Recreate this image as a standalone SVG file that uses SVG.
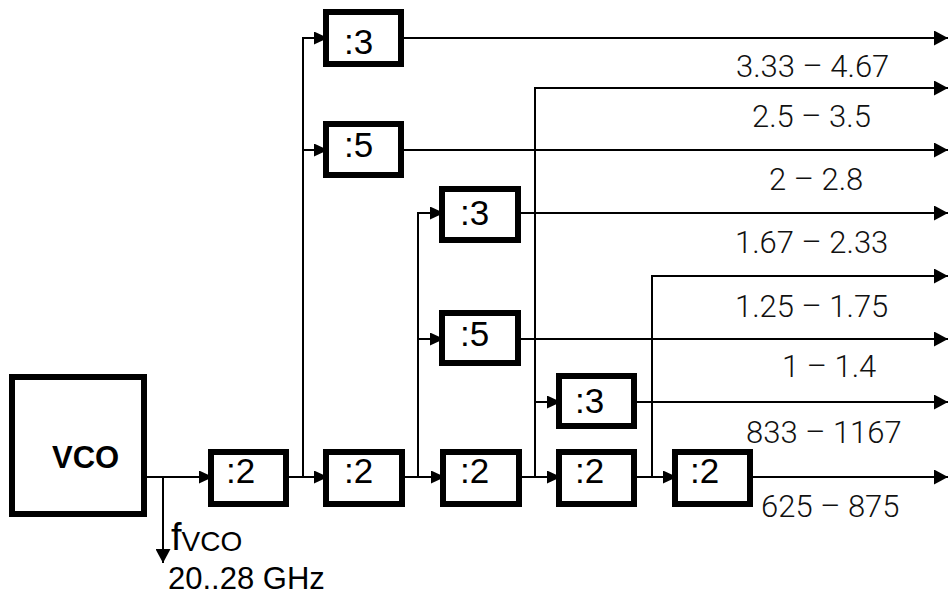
<svg xmlns="http://www.w3.org/2000/svg" width="948" height="596" viewBox="0 0 948 596">
<style>
.box{fill:#fff;stroke:#000;stroke-width:6}
.bt{font-family:"Liberation Sans",Arial,sans-serif;font-size:35px;fill:#000}
.lbl{font-family:Roboto,"Liberation Sans",Arial,sans-serif;font-weight:300;font-size:31px;fill:#111}
.w{fill:none;stroke:#000;stroke-width:2}
.in{marker-end:url(#sa)}
.out{marker-end:url(#ba)}
</style>
<defs>
<marker id="sa" markerUnits="userSpaceOnUse" markerWidth="14" markerHeight="13" refX="14" refY="6.5" orient="auto"><path d="M0,0 L14,6.5 L0,13 z" fill="#000"/></marker>
<marker id="ba" markerUnits="userSpaceOnUse" markerWidth="14" markerHeight="15" refX="14" refY="7.5" orient="auto"><path d="M0,0 L14,7.5 L0,15 z" fill="#000"/></marker>
</defs>
<rect width="948" height="596" fill="#fff"/>
<g id="connectors">
<path class="w in" d="M147,477 H213"/>
<path class="w out" d="M163,477 V563"/>
<path class="w in" d="M289,477 H328"/>
<path class="w in" d="M303,477 V38 H328"/>
<path class="w in" d="M303,150 H328"/>
<path class="w in" d="M405,477 H445"/>
<path class="w in" d="M418,477 V213 H444"/>
<path class="w in" d="M418,339 H444"/>
<path class="w in" d="M522,477 H561"/>
<path class="w out" d="M535,477 V88 H948"/>
<path class="w in" d="M535,402 H561"/>
<path class="w in" d="M637,477 H677"/>
<path class="w out" d="M652,477 V276 H948"/>
<path class="w out" d="M404,38 H948"/>
<path class="w out" d="M404,150 H948"/>
<path class="w out" d="M521,213 H948"/>
<path class="w out" d="M521,339 H948"/>
<path class="w out" d="M637,402 H948"/>
<path class="w out" d="M753,477 H948"/>
</g>
<g id="vco"><rect x="12" y="377" width="132" height="137" fill="none" stroke="#000" stroke-width="6"/><text x="52" y="468" font-family="'Liberation Sans',Arial,sans-serif" font-size="31" font-weight="bold">VCO</text></g>
<g id="div2a"><rect class="box" x="211" y="452" width="75" height="52"/><text class="bt" x="226" y="483">:2</text></g>
<g id="div2b"><rect class="box" x="326" y="452" width="76" height="52"/><text class="bt" x="344" y="483">:2</text></g>
<g id="div2c"><rect class="box" x="443" y="452" width="76" height="52"/><text class="bt" x="460" y="483">:2</text></g>
<g id="div2d"><rect class="box" x="559" y="452" width="75" height="52"/><text class="bt" x="575" y="483">:2</text></g>
<g id="div2e"><rect class="box" x="675" y="452" width="75" height="52"/><text class="bt" x="690" y="483">:2</text></g>
<g id="div3top"><rect class="box" x="326" y="12" width="75" height="52"/><text class="bt" x="344" y="54">:3</text></g>
<g id="div5top"><rect class="box" x="326" y="124" width="75" height="51"/><text class="bt" x="344" y="157">:5</text></g>
<g id="div3mid"><rect class="box" x="442" y="189" width="76" height="51"/><text class="bt" x="460" y="225">:3</text></g>
<g id="div5mid"><rect class="box" x="442" y="313" width="76" height="50"/><text class="bt" x="460" y="346">:5</text></g>
<g id="div3low"><rect class="box" x="559" y="376" width="75" height="50"/><text class="bt" x="575" y="413">:3</text></g>
<g id="fvco"><text x="171" y="550" font-family="'Liberation Sans',Arial,sans-serif" font-size="38">f<tspan font-size="28" dy="1">VCO</tspan></text>
<text x="168" y="589" font-family="'Liberation Sans',Arial,sans-serif" font-size="31">20..28 GHz</text></g>
<g id="labels">
<text class="lbl" x="736" y="77">3.33 – 4.67</text>
<text class="lbl" x="752" y="127">2.5 – 3.5</text>
<text class="lbl" x="769" y="190">2 – 2.8</text>
<text class="lbl" x="735" y="253">1.67 – 2.33</text>
<text class="lbl" x="735" y="317">1.25 – 1.75</text>
<text class="lbl" x="782" y="377">1 – 1.4</text>
<text class="lbl" x="746" y="443">833 – 1167</text>
<text class="lbl" x="761" y="517">625 – 875</text>
</g>
</svg>
